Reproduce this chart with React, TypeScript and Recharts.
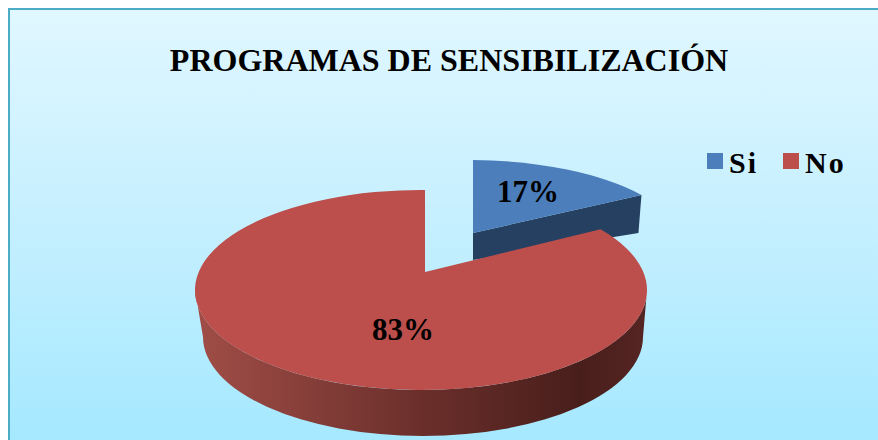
import { Cell, Legend, Pie, PieChart } from 'recharts';

const categories = ['Si', 'No'];
const shares = [17, 83];
const sliceColors = ['#4b7ebb', '#bc4f4b'];
const chartTitle = 'PROGRAMAS DE SENSIBILIZACIÓN';

const data = categories.map((name, i) => ({ name, value: shares[i] }));

// the blue slice is pulled out and sits further back, so it gets its own apex and scale
const sliceLook = [
    { dx: 48, dy: -39, sx: 0.96, sy: 0.89 },
    { dx: 0, dy: 0, sx: 1, sy: 1 },
];
const labelOffset = [
    { x: 103, y: -81 },
    { x: -22, y: 57 },
];
const FLATTEN = 0.4425;
const RAD = Math.PI / 180;

// ray from the apex to the rim of the off-centre ellipse, that gives the perspective look
const rimPoint = (ax: number, ay: number, ex: number, ey: number, rx: number, ry: number, deg: number) => {
    const ux = Math.cos(deg * RAD) * rx;
    const uy = -Math.sin(deg * RAD) * ry;
    const ox = (ax - ex) / rx;
    const oy = (ay - ey) / ry;
    const a = (ux / rx) ** 2 + (uy / ry) ** 2;
    const b = 2 * (ox * ux / rx + oy * uy / ry);
    const c = ox * ox + oy * oy - 1;
    const k = (-b + Math.sqrt(b * b - 4 * a * c)) / (2 * a);
    return { x: ax + ux * k, y: ay + uy * k };
};

const Slice3D = (props: any) => {
    const { cx, cy, outerRadius, startAngle, endAngle, fill, index } = props;
    const look = sliceLook[index];
    const ax = cx + look.dx;
    const ay = cy + look.dy;
    const rx = outerRadius * look.sx;
    const ry = outerRadius * FLATTEN * look.sy;
    const ex = ax - 4;
    const ey = ay + 18 * look.sy;
    const p0 = rimPoint(ax, ay, ex, ey, rx, ry, startAngle);
    const p1 = rimPoint(ax, ay, ex, ey, rx, ry, endAngle);
    const large = Math.abs(startAngle - endAngle) > 180 ? 1 : 0;
    const face = `M${ax},${ay}L${p0.x},${p0.y}A${rx},${ry} 0 ${large} 1 ${p1.x},${p1.y}Z`;

    if (index === 0) {
        const side = `M${ax},${ay}L${p1.x},${p1.y}L${p1.x - 3},${p1.y + 38}L${ax},${ay + 27}Z`;
        return (
            <g>
                <path d={side} fill="#254061" />
                <path d={face} fill={fill} />
            </g>
        );
    }

    const brx = rx - 6;
    const bry = ry - 1;
    const bx = ex + 2;
    const by = ey + 47;
    const wall = `M${ex - rx},${ey}A${rx},${ry} 0 0 0 ${ex + rx},${ey}L${bx + brx},${by}A${brx},${bry} 0 0 1 ${bx - brx},${by}Z`;
    return (
        <g>
            <path d={wall} fill="url(#wallShade)" />
            <path d={face} fill={fill} />
        </g>
    );
};

const renderLabel = (props: any) => {
    const { cx, cy, index, value } = props;
    return (
        <text
            x={cx + labelOffset[index].x}
            y={cy + labelOffset[index].y}
            textAnchor="middle"
            dominantBaseline="central"
            fontFamily="Liberation Serif"
            fontWeight="bold"
            fontSize={31}
            fill="#000"
        >
            {value}%
        </text>
    );
};

export default function App() {
    return (
        <div
            style={{
                position: 'absolute',
                left: 0,
                top: 0,
                width: 878,
                height: 440,
                background: '#fff',
                overflow: 'hidden',
            }}
        >
            <div
                style={{
                    position: 'absolute',
                    left: 8,
                    top: 8,
                    width: 880,
                    height: 450,
                    boxSizing: 'border-box',
                    border: '2px solid #4bacc6',
                    background: 'linear-gradient(180deg, #e0f7ff 0%, #c4efff 50%, #a3e8ff 100%)',
                }}
            />
            <div style={{ position: 'absolute', left: 0, top: 0 }}>
                <PieChart width={878} height={440} margin={{ top: 0, right: 0, bottom: 0, left: 0 }}>
                    <defs>
                        <linearGradient id="wallShade" x1="0" y1="0" x2="1" y2="0">
                            <stop offset="0%" stopColor="#a14d47" />
                            <stop offset="50%" stopColor="#6b2f2b" />
                            <stop offset="85%" stopColor="#481e1b" />
                            <stop offset="100%" stopColor="#552522" />
                        </linearGradient>
                    </defs>
                    <text
                        x={449}
                        y={60}
                        textAnchor="middle"
                        dominantBaseline="central"
                        fontFamily="Liberation Serif"
                        fontWeight="bold"
                        fontSize={32}
                        fill="#000"
                    >
                        {chartTitle}
                    </text>
                    <Pie
                        data={data}
                        dataKey="value"
                        nameKey="name"
                        cx={425}
                        cy={272}
                        innerRadius={0}
                        outerRadius={226}
                        startAngle={90}
                        endAngle={-270}
                        stroke="none"
                        isAnimationActive={false}
                        shape={Slice3D}
                        label={renderLabel}
                        labelLine={false}
                    >
                        {categories.map((name, i) => (
                            <Cell key={name} fill={sliceColors[i]} />
                        ))}
                    </Pie>
                    <Legend
                        layout="horizontal"
                        align="left"
                        verticalAlign="top"
                        iconType="square"
                        iconSize={16}
                        itemSorter={null}
                        wrapperStyle={{ left: 707, top: 138, width: 170, height: 0, overflow: 'visible' }}
                        formatter={(value: string) => (
                            <span
                                style={{
                                    position: 'relative',
                                    top: 8,
                                    marginLeft: 2,
                                    marginRight: 15,
                                    color: '#000',
                                    fontFamily: 'Liberation Serif',
                                    fontWeight: 'bold',
                                    fontSize: 30,
                                    letterSpacing: 2,
                                }}
                            >
                                {value}
                            </span>
                        )}
                    />
                </PieChart>
            </div>
        </div>
    );
}
